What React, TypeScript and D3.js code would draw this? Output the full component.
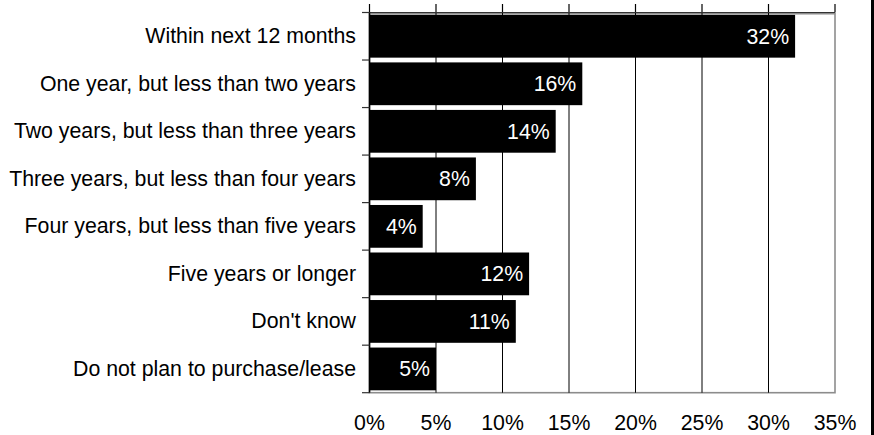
import React from "react";
import * as d3 from "d3";

const categories = [
  "Within next 12 months",
  "One year, but less than two years",
  "Two years, but less than three years",
  "Three years, but less than four years",
  "Four years, but less than five years",
  "Five years or longer",
  "Don't know",
  "Do not plan to purchase/lease",
];
const values = [32, 16, 14, 8, 4, 12, 11, 5];
const tickValues = [0, 5, 10, 15, 20, 25, 30, 35];

const W = 874;
const H = 435;
const FONT = "'Liberation Sans', Arial, Helvetica, sans-serif";
const FS = 21.3;

export default function App() {
  const x = d3.scaleLinear().domain([0, 35]).range([369.5, 835]);
  const y = d3
    .scaleBand<string>()
    .domain(categories)
    .range([12.5, 392.7])
    .paddingInner(0.1)
    .paddingOuter(0.05);
  const step = y.step();
  const top = 12.5;
  const bottom = 392.7;
  const boundaries = d3.range(categories.length + 1).map((i) => top + i * step);

  return (
    <svg
      width={W}
      height={H}
      style={{ position: "absolute", left: 0, top: 0, background: "#fff" }}
      fontFamily={FONT}
    >
      {/* plot border */}
      <rect
        x={x(0)}
        y={top + 1.2}
        width={x(35) - x(0)}
        height={bottom - top - 1.2}
        fill="none"
        stroke="#8c8c8c"
        strokeWidth={1.6}
      />
      {/* gridlines */}
      {tickValues.slice(1, -1).map((t) => (
        <line key={"g" + t} x1={x(t)} x2={x(t)} y1={top} y2={bottom} stroke="#000" strokeWidth={1} />
      ))}
      {/* top ticks */}
      {tickValues.map((t) => (
        <line key={"tt" + t} x1={x(t)} x2={x(t)} y1={4} y2={top} stroke="#000" strokeWidth={1.2} />
      ))}
      {/* top axis line */}
      <line x1={x(0)} x2={x(35)} y1={top} y2={top} stroke="#333" strokeWidth={1.2} />
      {/* bars */}
      {categories.map((c, i) => (
        <rect
          key={"b" + c}
          x={x(0)}
          y={y(c)!}
          width={x(values[i]) - x(0)}
          height={y.bandwidth()}
          fill="#000"
        />
      ))}
      {/* left axis line */}
      <line x1={x(0)} x2={x(0)} y1={top} y2={bottom} stroke="#000" strokeWidth={1.5} />
      {/* left ticks */}
      {boundaries.map((b, i) => (
        <line key={"lt" + i} x1={362} x2={x(0)} y1={b} y2={b} stroke="#333" strokeWidth={1.2} />
      ))}
      {/* bar value labels */}
      {categories.map((c, i) => (
        <text
          key={"v" + c}
          x={x(values[i]) - 6}
          y={y(c)! + y.bandwidth() / 2}
          dy="0.35em"
          textAnchor="end"
          fill="#fff"
          fontSize={FS}
        >
          {values[i] + "%"}
        </text>
      ))}
      {/* category labels */}
      {categories.map((c) => (
        <text
          key={"c" + c}
          x={356}
          y={y(c)! - step * 0.05 + step / 2}
          dy="0.33em"
          textAnchor="end"
          fill="#000"
          fontSize={FS}
        >
          {c}
        </text>
      ))}
      {/* bottom tick labels */}
      {tickValues.map((t) => (
        <text key={"xl" + t} x={x(t)} y={429.5} textAnchor="middle" fill="#000" fontSize={FS}>
          {t + "%"}
        </text>
      ))}
      {/* right edge line */}
      <rect x={871} y={0} width={3} height={H} fill="#000" />
    </svg>
  );
}
